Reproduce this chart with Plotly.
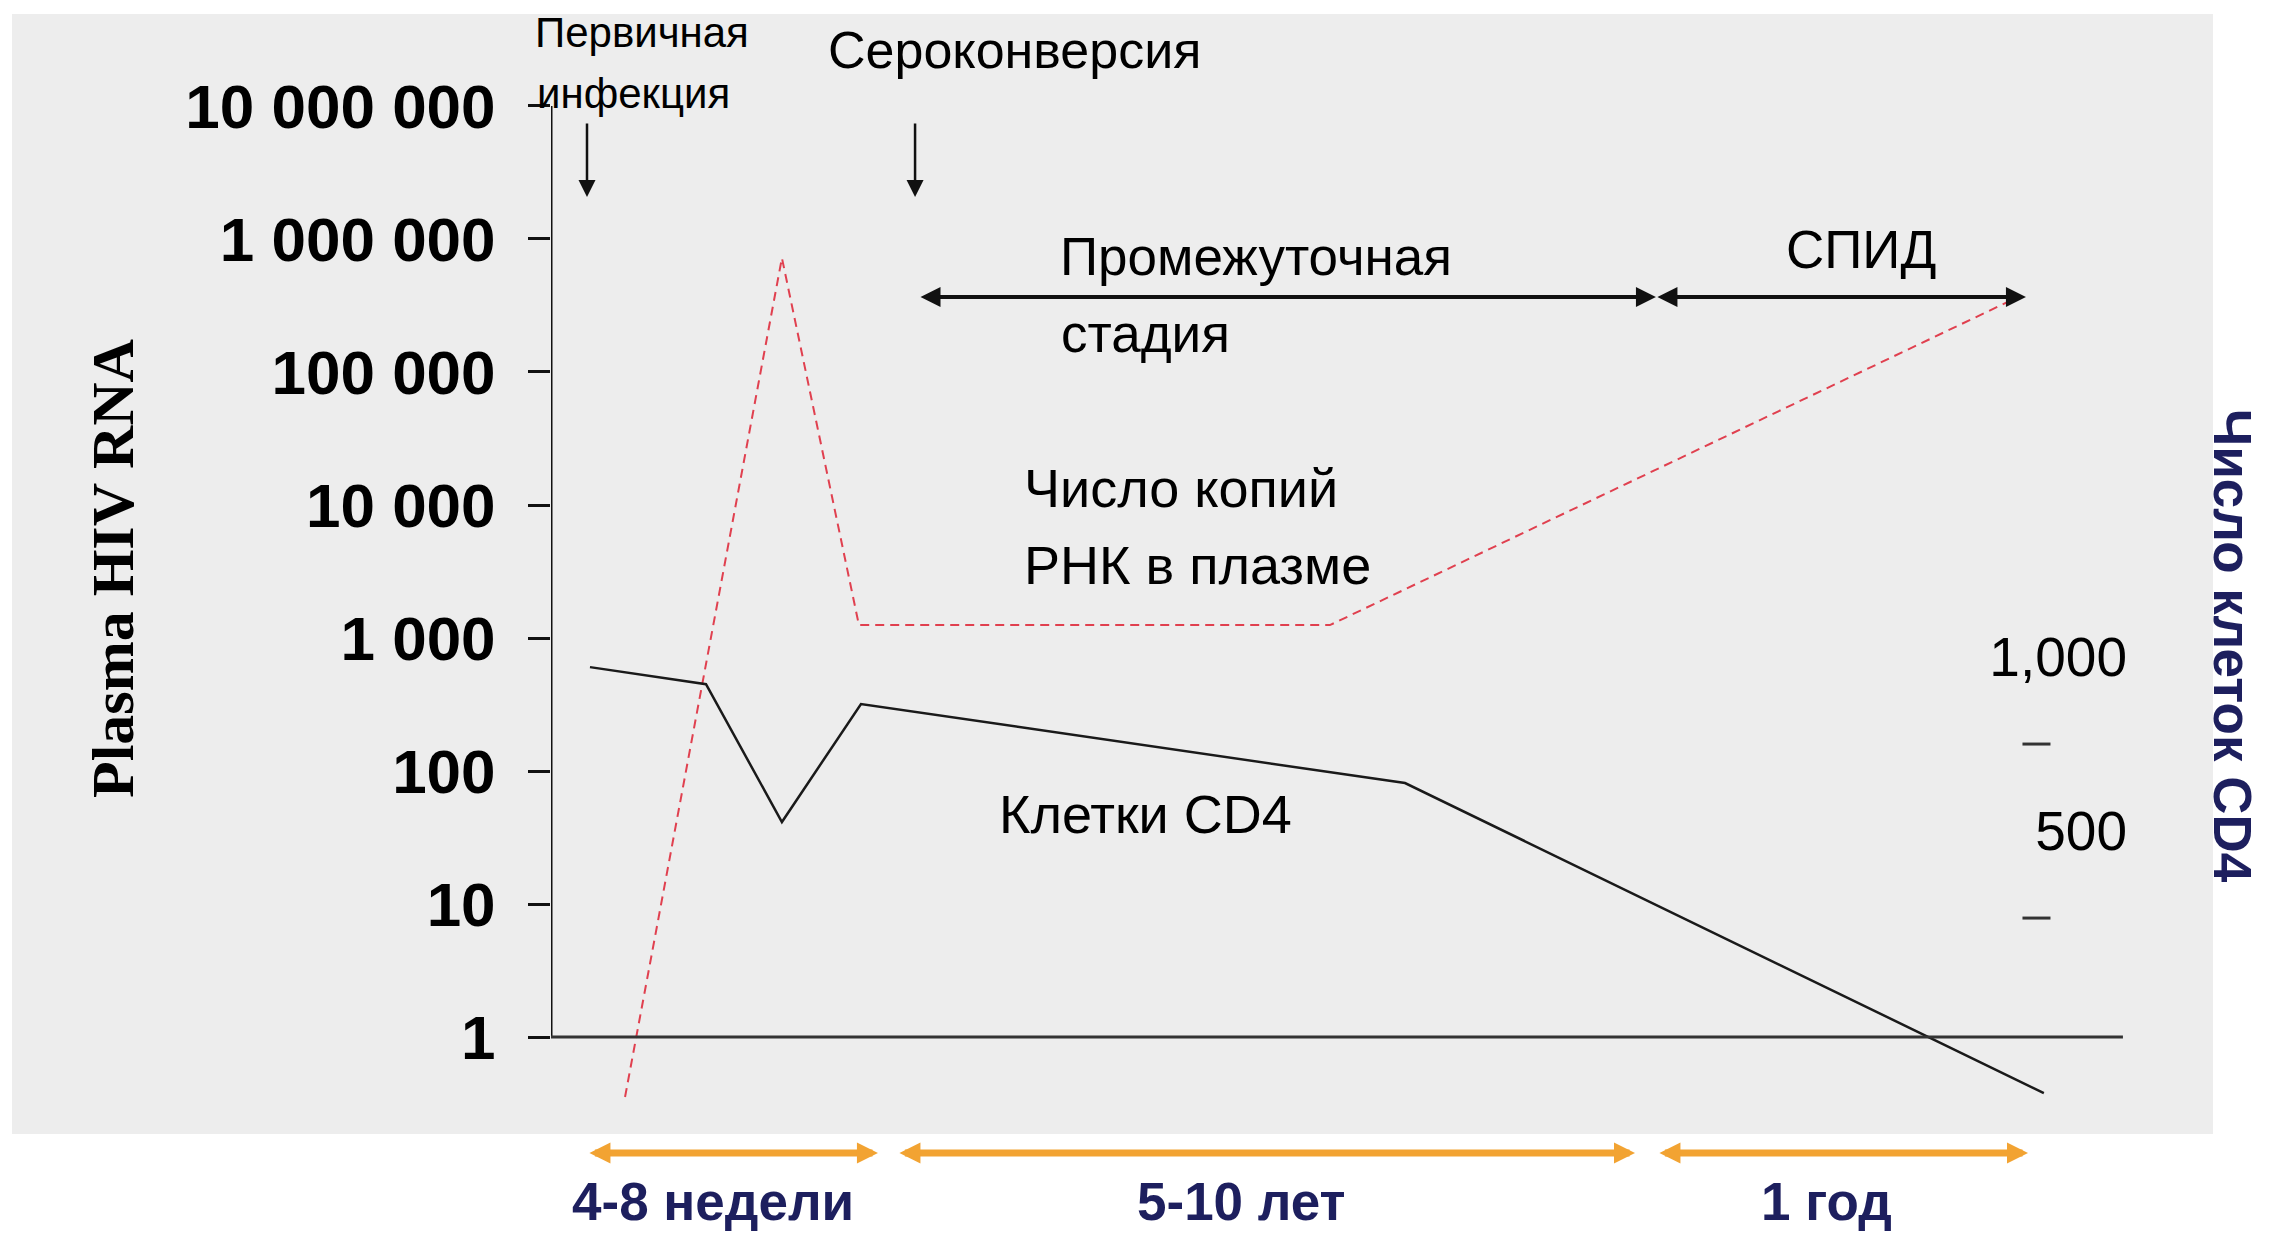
import plotly.graph_objects as go

# ---------------- data ----------------
# schematic time axis (arbitrary units, 0 = onset, 100 = end of axis)
rna_x = [4.71, 14.69, 19.59, 49.55, 92.94]
rna_y = [0.354, 720000, 1250, 1250, 348000]          # plasma HIV RNA, copies/ml (log axis)

cd4_x = [2.48, 9.86, 14.69, 19.72, 54.33, 94.97]
cd4_y = [971, 922, 526, 865, 638, -253]              # CD4 cells (right axis)

rna_tickvals = [1, 10, 100, 1000, 10000, 100000, 1000000, 10000000]
rna_ticktext = ["1", "10", "100", "1 000", "10 000", "100 000", "1 000 000", "10 000 000"]

cd4_tickvals = [1000, 500]
cd4_ticktext = ["1,000", "500"]
cd4_minor = [750, 250]

phase_bounds = [2.35, 20.8, 22.07, 68.96, 70.42, 93.96]   # orange duration arrows
phase_labels = ["4-8 недели", "5-10 лет", "1 год"]
stage_bounds = [23.41, 70.29, 93.83]                      # black stage arrows
event_x = [2.29, 23.16]                                   # primary infection, seroconversion

# ---------------- layout helpers ----------------
W, H = 2272, 1241          # page size
OFF = 8                    # default body margin of the html page
FW, FH = W - 2 * OFF, H - 2 * OFF
L, R, T, B = 551, 2130, 40, 1130   # plot area in page pixels
PW, PH = R - L, B - T


def pxp(xp):
    return (xp - L) / PW


def pyp(yp):
    return (B - yp) / PH


NAVY = "#1d1f5e"
ORANGE = "#F2A332"
SANS = "Arial, Liberation Sans, sans-serif"

fig = go.Figure()

fig.add_trace(go.Scatter(
    x=rna_x, y=rna_y, mode="lines",
    line=dict(color="#E0404F", width=2, dash="9px,6px"),
    hoverinfo="skip", showlegend=False))

fig.add_trace(go.Scatter(
    x=cd4_x, y=cd4_y, mode="lines", yaxis="y2",
    line=dict(color="#1a1a1a", width=2.5),
    hoverinfo="skip", showlegend=False))

fig.add_trace(go.Scatter(
    x=[94.5] * len(cd4_minor), y=cd4_minor, mode="markers", yaxis="y2",
    marker=dict(symbol="line-ew", size=20, line=dict(width=3, color="#333333")),
    hoverinfo="skip", showlegend=False))

shapes = [
    # grey panel
    dict(type="rect", xref="paper", yref="paper",
         x0=pxp(12), x1=pxp(2213), y0=pyp(1134), y1=pyp(14),
         fillcolor="#EDEDED", line=dict(width=0), layer="below"),
    # y axis line
    dict(type="line", xref="x", yref="y", x0=0, x1=0, y0=1, y1=1e7,
         line=dict(color="#111111", width=3)),
    # x axis line at RNA = 1
    dict(type="line", xref="x", yref="y", x0=0, x1=100, y0=1, y1=1,
         line=dict(color="#333333", width=3)),
]

ann = []


def text(s, xp, yp, size, xanchor="center", color="black", bold=False, family=SANS, angle=0):
    ann.append(dict(text=("<b>%s</b>" % s) if bold else s, xref="paper", yref="paper",
                    x=pxp(xp), y=pyp(yp), xanchor=xanchor, yanchor="middle",
                    showarrow=False, textangle=angle,
                    font=dict(family=family, size=size, color=color)))


text("Первичная", 533, 33, 42, xanchor="left")
text("инфекция", 535, 94, 42, xanchor="left")
text("Сероконверсия", 826, 50, 52, xanchor="left")
text("Промежуточная", 1256, 256, 53)
text("стадия", 1059, 333, 53, xanchor="left")
text("СПИД", 1861, 250, 53)
text("Число копий", 1022, 488, 54, xanchor="left")
text("РНК в плазме", 1022, 565, 54, xanchor="left")
text("Клетки CD4", 1145, 814, 54)
text("Plasma HIV RNA", 113, 568, 60, bold=True,
     family="Times New Roman, Liberation Serif, serif", angle=-90)
text("Число клеток CD4", 2233, 646, 53, bold=True, color=NAVY, angle=90)

for lab, xc in zip(phase_labels, [713, 1241, 1826]):
    text(lab, xc, 1201, 53, bold=True, color=NAVY)

# vertical event arrows
for xe in event_x:
    ann.append(dict(x=xe, y=pyp(197), xref="x", yref="paper", text="",
                    showarrow=True, ax=0, ay=-75, axref="pixel", ayref="pixel",
                    arrowhead=2, arrowsize=1.36, arrowwidth=2.5, arrowcolor="#111111"))

# stage double arrows
for a, b in zip(stage_bounds[:-1], stage_bounds[1:]):
    ann.append(dict(x=b, y=pyp(297), xref="x", yref="paper", text="",
                    showarrow=True, ax=a, ay=0, axref="x", ayref="pixel",
                    arrowhead=2, startarrowhead=2, arrowside="end+start",
                    arrowsize=1.0, startarrowsize=1.0, arrowwidth=4, arrowcolor="#111111"))

# orange duration arrows
for i in range(0, len(phase_bounds), 2):
    a, b = phase_bounds[i], phase_bounds[i + 1]
    ann.append(dict(x=b, y=pyp(1153), xref="x", yref="paper", text="",
                    showarrow=True, ax=a, ay=0, axref="x", ayref="pixel",
                    arrowhead=2, startarrowhead=2, arrowside="end+start",
                    arrowsize=0.6, startarrowsize=0.6, arrowwidth=7, arrowcolor=ORANGE))

fig.update_layout(
    width=FW, height=FH,
    margin=dict(l=L - OFF, r=FW - (R - OFF), t=T - OFF, b=FH - (B - OFF), pad=0),
    paper_bgcolor="white", plot_bgcolor="rgba(0,0,0,0)",
    showlegend=False,
    xaxis=dict(range=[0, 100.45], visible=False, fixedrange=True),
    yaxis=dict(type="log", range=[-0.699, 7.496],
               tickvals=rna_tickvals, ticktext=rna_ticktext,
               ticks="outside", ticklen=22, tickwidth=3, tickcolor="#111111",
               ticklabelstandoff=20,
               tickfont=dict(family=SANS, size=62, color="black", weight="bold"),
               showline=False, showgrid=False, zeroline=False),
    yaxis2=dict(overlaying="y", side="right", range=[-359, 2773],
                tickvals=cd4_tickvals, ticktext=cd4_ticktext,
                ticks="", ticklabelposition="inside",
                tickfont=dict(family=SANS, size=55, color="black"),
                showline=False, showgrid=False, zeroline=False),
    shapes=shapes,
    annotations=ann,
)

fig.write_html("out.html")
